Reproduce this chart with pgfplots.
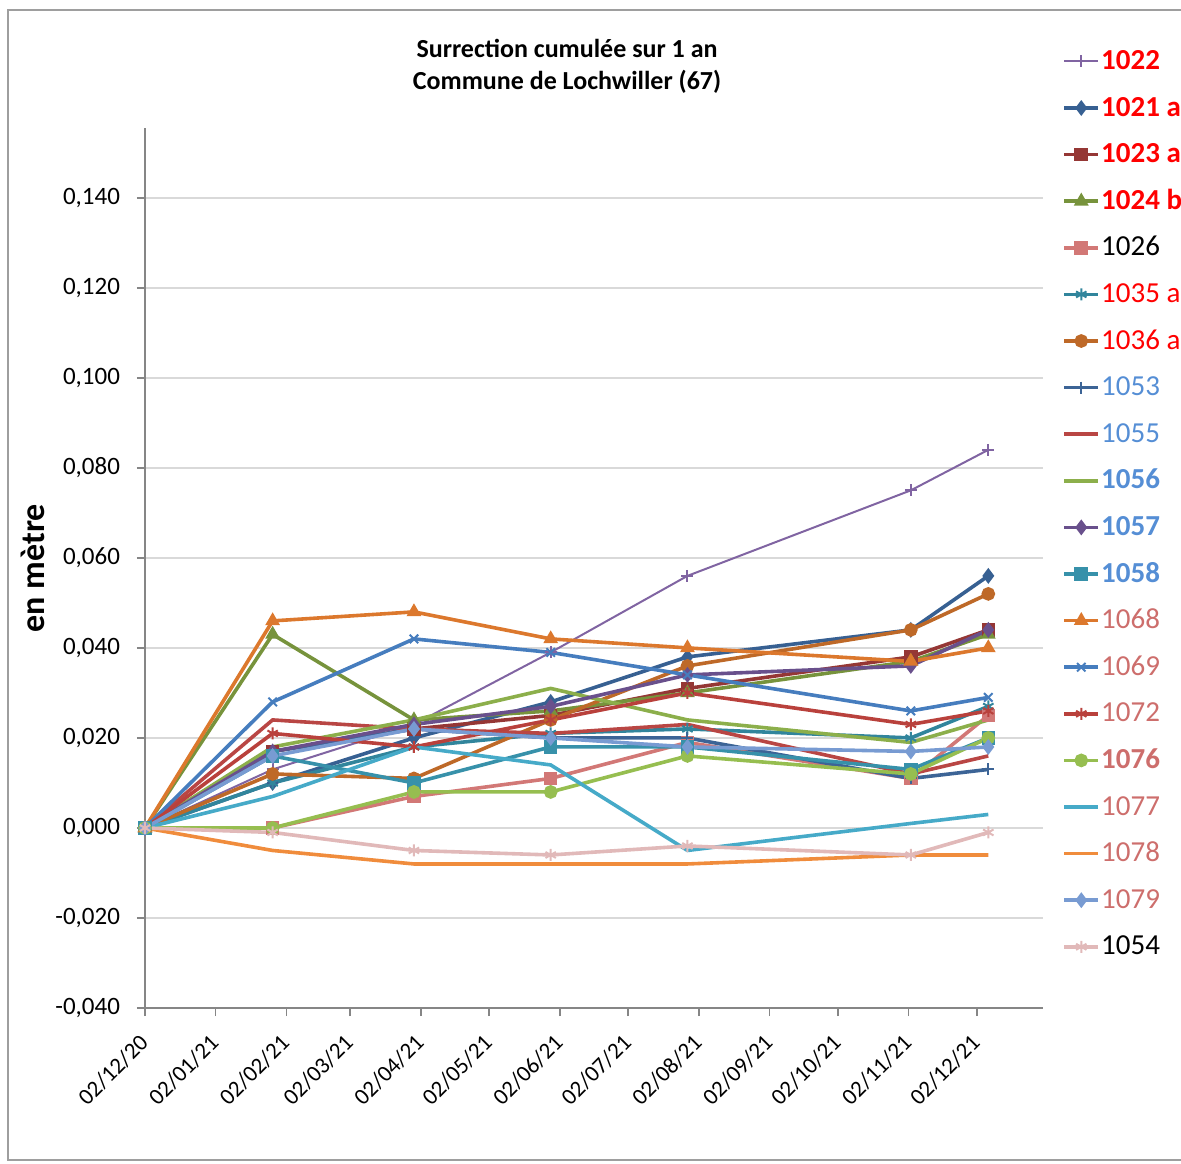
\documentclass[border=0pt]{standalone}
\usepackage{pgfplots}
\usepackage{pgfplotstable}
\pgfplotsset{compat=1.18}
\usepackage{fontspec}
\setmainfont{Carlito}

% series colours
\definecolor{cA}{RGB}{128,100,162}  % 1022
\definecolor{cB}{RGB}{55,96,146}    % 1021 a
\definecolor{cC}{RGB}{149,55,53}    % 1023 a
\definecolor{cD}{RGB}{119,147,60}   % 1024 b
\definecolor{cE}{RGB}{210,120,118}  % 1026
\definecolor{cF}{RGB}{49,133,156}   % 1035 a
\definecolor{cG}{RGB}{190,105,40}   % 1036 a
\definecolor{cH}{RGB}{60,100,150}   % 1053
\definecolor{cI}{RGB}{185,70,68}    % 1055
\definecolor{cJ}{RGB}{140,175,75}   % 1056
\definecolor{cK}{RGB}{105,80,140}   % 1057
\definecolor{cL}{RGB}{55,145,170}   % 1058
\definecolor{cM}{RGB}{220,120,45}   % 1068
\definecolor{cN}{RGB}{70,125,190}   % 1069
\definecolor{cO}{RGB}{185,65,60}    % 1072
\definecolor{cP}{RGB}{150,190,80}   % 1076
\definecolor{cQ}{RGB}{70,170,200}   % 1077
\definecolor{cR}{RGB}{240,140,60}   % 1078
\definecolor{cS}{RGB}{120,155,210}  % 1079
\definecolor{cT}{RGB}{225,185,185}  % 1054
% legend text colours
\definecolor{tred}{RGB}{255,0,0}
\definecolor{tblue}{RGB}{85,142,213}
\definecolor{tpink}{RGB}{205,110,108}
\definecolor{axgray}{RGB}{134,134,134}
\definecolor{grgray}{RGB}{217,217,217}

% days since 02/12/20
\pgfplotstableread{
d    a1022 a1021 a1023 a1024 a1026 a1035 a1036 a1053 a1055 a1056 a1057 a1058 a1068 a1069 a1072 a1076 a1077 a1078 a1079 a1054
0    0     0     0     0     0     0     0     0     0     0     0     0     0     0     0     0     0     0      0     0
56   0.013 0.010 0.017 0.043 0.000 0.010 0.012 0.017 0.024 0.018 0.017 0.016 0.046 0.028 0.021 0.000 0.007 -0.005 0.016 -0.001
118  0.023 0.020 0.022 0.024 0.007 0.018 0.011 0.022 0.022 0.024 0.023 0.010 0.048 0.042 0.018 0.008 0.018 -0.008 0.022 -0.005
178  0.039 0.028 0.025 0.026 0.011 0.021 0.024 0.020 0.021 0.031 0.027 0.018 0.042 0.039 0.024 0.008 0.014 -0.008 0.020 -0.006
238  0.056 0.038 0.031 0.030 0.019 0.022 0.036 0.020 0.023 0.024 0.034 0.018 0.040 0.034 0.030 0.016 -0.005 -0.008 0.018 -0.004
336  0.075 0.044 0.038 0.037 0.011 0.020 0.044 0.011 0.012 0.019 0.036 0.013 0.037 0.026 0.023 0.012 0.001 -0.006 0.017 -0.006
370  0.084 0.056 0.044 0.043 0.025 0.027 0.052 0.013 0.016 0.024 0.044 0.020 0.040 0.029 0.026 0.020 0.003 -0.006 0.018 -0.001
}\data

\begin{document}
\begin{tikzpicture}
\path[use as bounding box] (-72.5pt,-77.5pt) rectangle (518pt,504pt);
\draw[axgray!80, line width=0.8pt] (-68.5pt,-76pt) rectangle (560pt,499pt);
\begin{axis}[
  scale only axis,
  width=449pt, height=440pt,
  xmin=0, xmax=394,
  ymin=-0.04, ymax=0.1555,
  axis lines*=left,
  axis line style={draw=axgray, line width=0.8pt},
  tick align=outside,
  major tick length=4pt,
  tick style={axgray, line width=0.8pt},
  xtick={0,31,62,90,121,151,182,212,243,274,304,335,365},
  xticklabels={02/12/20,02/01/21,02/02/21,02/03/21,02/04/21,02/05/21,02/06/21,02/07/21,02/08/21,02/09/21,02/10/21,02/11/21,02/12/21},
  xticklabel style={yshift=-9pt, xshift=2pt, rotate=45, anchor=east, font=\fontsize{11.5}{14}\selectfont},
  ytick={-0.04,-0.02,0,0.02,0.04,0.06,0.08,0.1,0.12,0.14},
  yticklabel style={xshift=-5pt, font=\fontsize{12.5}{15}\selectfont,
    /pgf/number format/.cd, fixed, fixed zerofill, precision=3, use comma, assume math mode=true},
  scaled y ticks=false,
  ymajorgrids,
  grid style={grgray, line width=0.8pt},
  ylabel={en mètre},
  ylabel style={at={(axis description cs:-0.125,0.5)}, anchor=center, font=\bfseries\fontsize{17}{19}\selectfont},
  title={Surrection cumulée sur 1 an\\Commune de Lochwiller (67)},
  title style={at={(axis description cs:0.47,1)}, anchor=center, yshift=25pt, align=center, font=\bfseries\fontsize{13}{16}\selectfont},
  legend style={at={(axis description cs:1,1)}, anchor=north west, xshift=9.5pt, yshift=40pt,
    draw=none, fill=none, inner sep=0pt, font=\fontsize{14.5}{17}\selectfont, row sep=10.3pt,
    nodes={inner ysep=0pt, inner xsep=0.5pt, text height=10.5pt, text depth=2.5pt}},
  legend cell align=left,
  every axis plot/.append style={line width=1.8pt, mark size=2.5pt},
]
\addplot[cA, line width=1pt, mark=+, mark size=3pt, mark options={solid}] table[x=d, y=a1022] {\data};
\addlegendentry{\textcolor{tred}{\textbf{1022}}}
\addplot[cB, mark=diamond*, mark options={solid, fill=cB}] table[x=d, y=a1021] {\data};
\addlegendentry{\textcolor{tred}{\textbf{1021 a}}}
\addplot[cC, mark=square*, mark options={solid, fill=cC}] table[x=d, y=a1023] {\data};
\addlegendentry{\textcolor{tred}{\textbf{1023 a}}}
\addplot[cD, mark=triangle*, mark options={solid, fill=cD}] table[x=d, y=a1024] {\data};
\addlegendentry{\textcolor{tred}{\textbf{1024 b}}}
\addplot[cE, mark=square*, mark options={solid, fill=cE}] table[x=d, y=a1026] {\data};
\addlegendentry{\textcolor{black}{1026}}
\addplot[cF, mark=asterisk, mark size=3pt, mark options={solid, line width=1pt}] table[x=d, y=a1035] {\data};
\addlegendentry{\textcolor{tred}{1035 a}}
\addplot[cG, mark=*, mark options={solid, fill=cG}] table[x=d, y=a1036] {\data};
\addlegendentry{\textcolor{tred}{1036 a}}
\addplot[cH, mark=+, mark size=3pt, mark options={solid, line width=1pt}] table[x=d, y=a1053] {\data};
\addlegendentry{\textcolor{tblue}{1053}}
\addplot[cI, no markers] table[x=d, y=a1055] {\data};
\addlegendentry{\textcolor{tblue}{1055}}
\addplot[cJ, no markers] table[x=d, y=a1056] {\data};
\addlegendentry{\textcolor{tblue}{\textbf{1056}}}
\addplot[cK, mark=diamond*, mark options={solid, fill=cK}] table[x=d, y=a1057] {\data};
\addlegendentry{\textcolor{tblue}{\textbf{1057}}}
\addplot[cL, mark=square*, mark options={solid, fill=cL}] table[x=d, y=a1058] {\data};
\addlegendentry{\textcolor{tblue}{\textbf{1058}}}
\addplot[cM, mark=triangle*, mark options={solid, fill=cM}] table[x=d, y=a1068] {\data};
\addlegendentry{\textcolor{tpink}{1068}}
\addplot[cN, mark=x, mark size=3pt, mark options={solid, line width=1pt}] table[x=d, y=a1069] {\data};
\addlegendentry{\textcolor{tpink}{1069}}
\addplot[cO, mark=asterisk, mark size=3pt, mark options={solid, line width=1pt}] table[x=d, y=a1072] {\data};
\addlegendentry{\textcolor{tpink}{1072}}
\addplot[cP, mark=*, mark options={solid, fill=cP}] table[x=d, y=a1076] {\data};
\addlegendentry{\textcolor{tpink}{\textbf{1076}}}
\addplot[cQ, no markers] table[x=d, y=a1077] {\data};
\addlegendentry{\textcolor{tpink}{1077}}
\addplot[cR, no markers] table[x=d, y=a1078] {\data};
\addlegendentry{\textcolor{tpink}{1078}}
\addplot[cS, mark=diamond*, mark options={solid, fill=cS}] table[x=d, y=a1079] {\data};
\addlegendentry{\textcolor{tpink}{1079}}
\addplot[cT, mark=asterisk, mark size=3pt, mark options={solid, line width=1pt}] table[x=d, y=a1054] {\data};
\addlegendentry{\textcolor{black}{1054}}
\end{axis}
\end{tikzpicture}
\end{document}
